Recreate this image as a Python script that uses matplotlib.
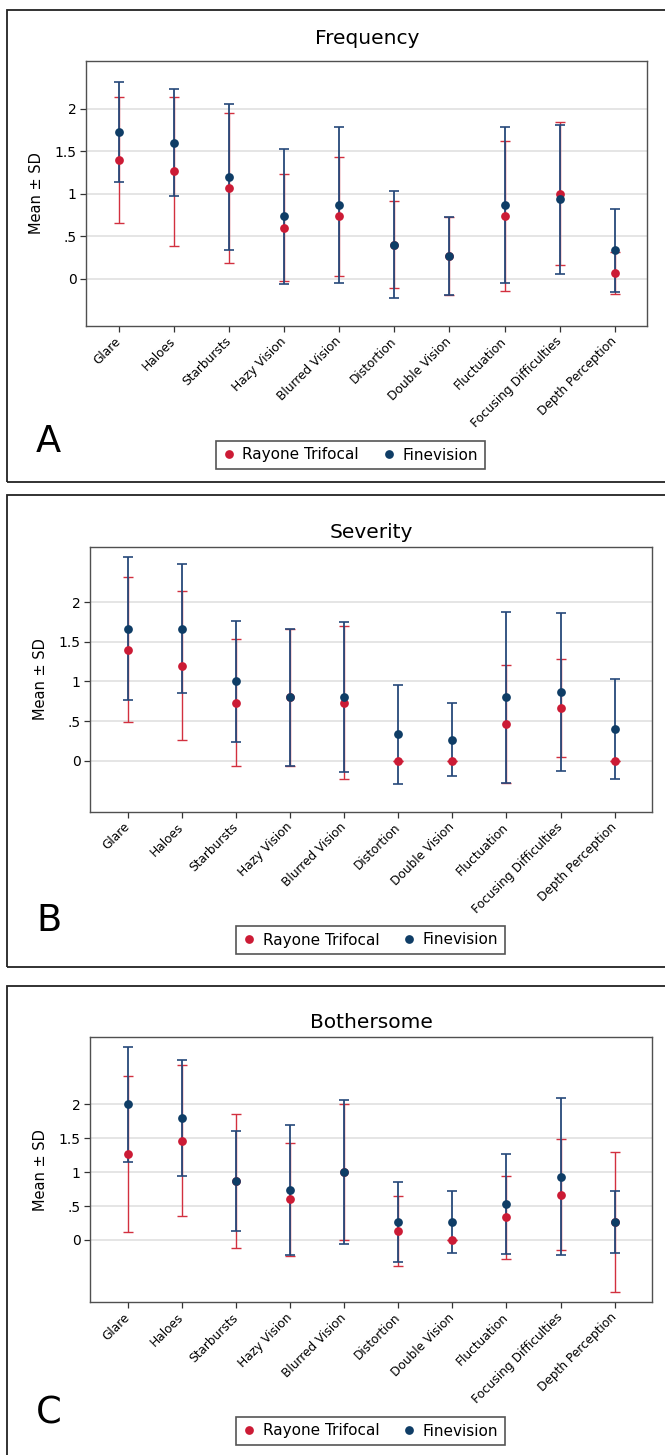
import matplotlib
matplotlib.use("Agg")
import matplotlib.pyplot as plt
from matplotlib.lines import Line2D
from matplotlib.patches import Rectangle

# ---------------- data ----------------
categories = ["Glare", "Haloes", "Starbursts", "Hazy Vision", "Blurred Vision",
              "Distortion", "Double Vision", "Fluctuation",
              "Focusing Difficulties", "Depth Perception"]
series_names = ["Rayone Trifocal", "Finevision"]
ytick_values = [0, 0.5, 1, 1.5, 2]
ytick_labels = ["0", ".5", "1", "1.5", "2"]
panel_titles = ["Frequency", "Severity", "Bothersome"]
panel_letters = ["A", "B", "C"]

freq_rayone_mean = [1.400, 1.267, 1.067, 0.600, 0.733, 0.400, 0.267, 0.733, 1.000, 0.067]
freq_rayone_sd   = [0.74, 0.88, 0.88, 0.63, 0.70, 0.51, 0.46, 0.885, 0.845, 0.25]
freq_fine_mean   = [1.733, 1.600, 1.200, 0.733, 0.867, 0.400, 0.267, 0.867, 0.933, 0.333]
freq_fine_sd     = [0.59, 0.63, 0.86, 0.80, 0.915, 0.63, 0.46, 0.915, 0.88, 0.49]

sev_rayone_mean = [1.400, 1.200, 0.733, 0.800, 0.733, 0.0, 0.0, 0.467, 0.667, 0.0]
sev_rayone_sd   = [0.91, 0.94, 0.80, 0.86, 0.96, 0.0, 0.0, 0.745, 0.62, 0.0]
sev_fine_mean   = [1.667, 1.667, 1.000, 0.800, 0.800, 0.333, 0.267, 0.800, 0.867, 0.400]
sev_fine_sd     = [0.90, 0.815, 0.756, 0.86, 0.945, 0.62, 0.46, 1.08, 0.99, 0.63]

both_rayone_mean = [1.267, 1.467, 0.867, 0.600, 1.000, 0.133, 0.0, 0.333, 0.667, 0.267]
both_rayone_sd   = [1.155, 1.12, 0.99, 0.83, 1.00, 0.515, 0.0, 0.615, 0.82, 1.03]
both_fine_mean   = [2.000, 1.800, 0.867, 0.733, 1.000, 0.267, 0.267, 0.533, 0.933, 0.267]
both_fine_sd     = [0.845, 0.86, 0.74, 0.96, 1.066, 0.59, 0.46, 0.74, 1.16, 0.46]

# ---------------- style ----------------
RED_DOT = "#CC1B35"
RED_BAR = "#D2303F"
BLUE_DOT = "#0F3D66"
BLUE_BAR = "#26497A"
MS = 6.3

W, H = 665, 1455
fig = plt.figure(figsize=(W / 100, H / 100), dpi=100)
fig.patch.set_facecolor("white")


def fx(px):
    return px / W


def fy(py):
    return 1 - py / H


def axes_rect(l, t, r, b):
    return [l / W, 1 - b / H, (r - l) / W, (b - t) / H]


layouts = [
    dict(rect=(86.3, 61, 647.3, 326), ylim=(-0.56, 2.566), xlim=(0.41, 10.59),
         title_y=44.5, letter_y=452, legend_c=(350.3, 455), frame=(10, 482)),
    dict(rect=(90.3, 547.3, 652, 811.7), ylim=(-0.64, 2.69), xlim=(0.31, 10.69),
         title_y=538.5, letter_y=931, legend_c=(370.5, 940), frame=(495, 967)),
    dict(rect=(90.3, 1037.3, 652, 1302.3), ylim=(-0.92, 2.99), xlim=(0.31, 10.69),
         title_y=1028.5, letter_y=1424, legend_c=(370.5, 1431), frame=(985.5, 1462)),
]

datasets = [
    (freq_rayone_mean, freq_rayone_sd, freq_fine_mean, freq_fine_sd),
    (sev_rayone_mean, sev_rayone_sd, sev_fine_mean, sev_fine_sd),
    (both_rayone_mean, both_rayone_sd, both_fine_mean, both_fine_sd),
]

xpos = list(range(1, len(categories) + 1))

for i, (lay, data) in enumerate(zip(layouts, datasets)):
    r_mean, r_sd, f_mean, f_sd = data
    l, t, r, b = lay["rect"]

    # outer frame of panel
    ft, fb = lay["frame"]
    fig.patches.append(Rectangle((fx(7), fy(fb)), fx(760 - 7), (fb - ft) / H,
                                 transform=fig.transFigure, fill=False,
                                 ec="#222222", lw=1.3, zorder=0))

    ax = fig.add_axes(axes_rect(l, t, r, b))
    ax.set_xlim(*lay["xlim"])
    ax.set_ylim(*lay["ylim"])

    for yv in ytick_values:
        ax.axhline(yv, color="#e0e0e0", lw=1.2, zorder=0)

    ax.errorbar(xpos, r_mean, yerr=r_sd, fmt="none", ecolor=RED_BAR,
                elinewidth=1.0, capsize=3.3, capthick=1.0, zorder=2)
    ax.errorbar(xpos, f_mean, yerr=f_sd, fmt="none", ecolor=BLUE_BAR,
                elinewidth=1.3, capsize=3.3, capthick=1.2, zorder=3)
    ax.plot(xpos, r_mean, "o", color=RED_DOT, ms=MS, mec=RED_DOT, mew=0, zorder=4)
    ax.plot(xpos, f_mean, "o", color=BLUE_DOT, ms=MS, mec=BLUE_DOT, mew=0, zorder=5)

    ax.set_yticks(ytick_values)
    ax.set_yticklabels(ytick_labels, fontsize=10)
    ax.set_xticks(xpos)
    ax.set_xticklabels(categories, fontsize=8.7, rotation=45, ha="right",
                       va="center", rotation_mode="anchor")
    ax.tick_params(axis="both", direction="out", length=4.1, width=0.9,
                   color="#333333")
    ax.tick_params(axis="y", pad=2.9)
    ax.tick_params(axis="x", pad=5.5)

    for s in ax.spines.values():
        s.set_color("#505050")
        s.set_linewidth(1.0)

    # y label
    fig.text(fx(l - 50), fy((t + b) / 2), "Mean \u00b1 SD", rotation=90,
             ha="center", va="center", fontsize=10.5)
    # title
    fig.text(fx((l + r) / 2), fy(lay["title_y"]), panel_titles[i],
             ha="center", va="baseline", fontsize=14.5)
    # panel letter
    fig.text(fx(36), fy(lay["letter_y"]), panel_letters[i],
             ha="left", va="baseline", fontsize=26.5)

    handles = [
        Line2D([], [], ls="none", marker="o", color=RED_DOT, ms=MS, mew=0),
        Line2D([], [], ls="none", marker="o", color=BLUE_DOT, ms=MS, mew=0),
    ]
    cx, cy = lay["legend_c"]
    leg = ax.legend(handles, series_names, loc="center",
                    bbox_to_anchor=(fx(cx), fy(cy)), bbox_transform=fig.transFigure,
                    ncol=2, frameon=True, fancybox=False, fontsize=11,
                    handlelength=0.8, handletextpad=0.48, columnspacing=1.54,
                    borderpad=0.45, borderaxespad=0)
    fr = leg.get_frame()
    fr.set_edgecolor("#555555")
    fr.set_linewidth(1.2)
    fr.set_alpha(1)

fig.savefig("out.png", dpi=100, facecolor="white")
